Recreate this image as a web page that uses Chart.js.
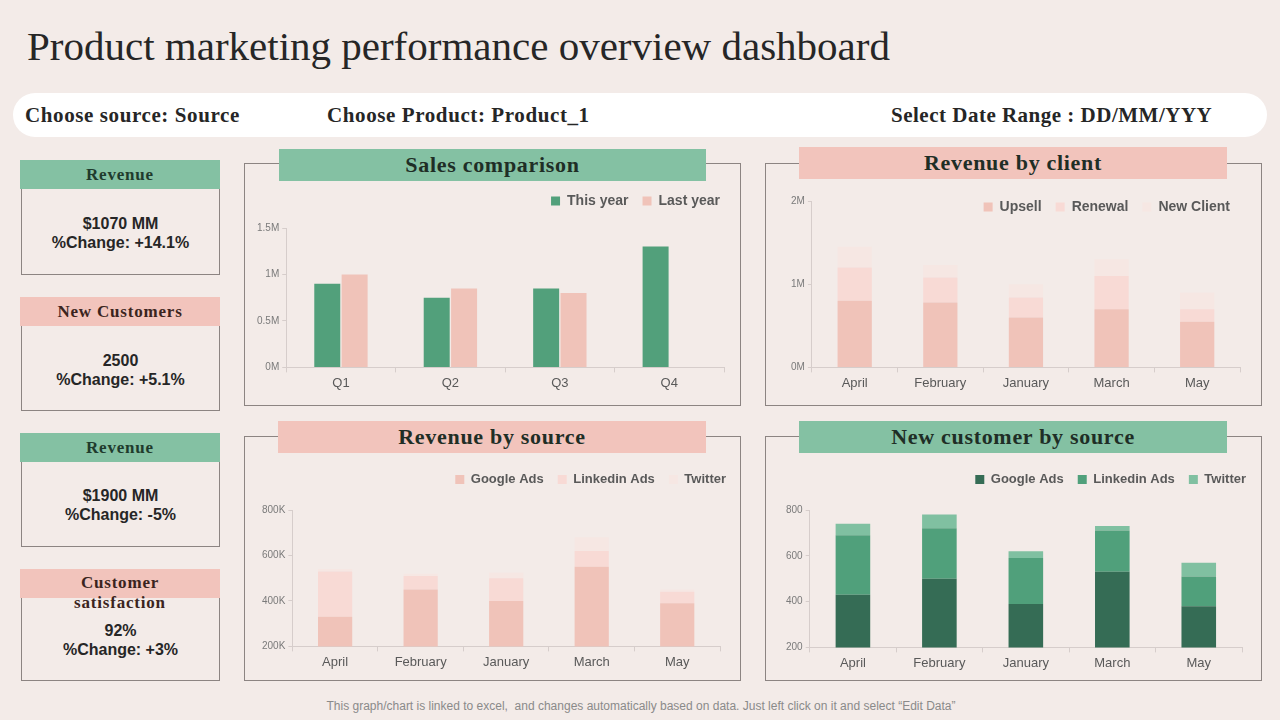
<!DOCTYPE html>
<html>
<head>
<meta charset="utf-8">
<script src="https://cdn.jsdelivr.net/npm/chart.js@4.4.1/dist/chart.umd.min.js"></script>
<style>
  body { margin:0; width:1280px; height:720px; background:#f3ebe8; position:relative; overflow:hidden; font-family:"Liberation Sans", Arial, sans-serif; }
  .abs { position:absolute; }
  .titulo { left:27px; top:22px; font-family:"Liberation Serif", serif; font-size:41px; color:#262626; white-space:nowrap; }
  .filtros { left:13px; top:93px; width:1254px; height:44px; background:#fff; border-radius:22px; }
  .filtro { top:103px; font-family:"Liberation Serif", serif; font-weight:bold; font-size:21px; letter-spacing:0.6px; color:#262626; white-space:nowrap; }
  .tarjeta { left:21px; width:197px; border:1px solid #8c8482; }
  .cabecera { left:20px; width:200px; height:29px; font-family:"Liberation Serif", serif; font-weight:bold; font-size:17px; letter-spacing:0.8px; color:#1f3b2d; text-align:center; line-height:29px; }
  .verde { background:#84c1a3; }
  .rosa { background:#f2c4bc; color:#3b2420; }
  .valor { left:21px; width:199px; text-align:center; font-weight:bold; font-size:16px; line-height:19px; color:#262626; }
  .panel { border:1px solid #8c8482; width:495px; height:241px; }
  .banda { height:32px; width:427px; font-family:"Liberation Serif", serif; font-weight:bold; font-size:22px; letter-spacing:0.7px; text-align:center; line-height:32px; color:#1f2e26; }
  .lienzo { width:484px; }
  .pie { left:0; width:1282px; top:699px; text-align:center; font-size:12px; color:#8a8a8a; }
</style>
</head>
<body>
<div class="abs titulo">Product marketing performance overview dashboard</div>
<div class="abs filtros"></div>
<div class="abs filtro" style="left:25px">Choose source: Source</div>
<div class="abs filtro" style="left:327px">Choose Product: Product_1</div>
<div class="abs filtro" style="left:891px;letter-spacing:0.5px">Select Date Range : DD/MM/YYY</div>

<!-- tarjetas -->
<div class="abs tarjeta" style="top:160px;height:113px"></div>
<div class="abs cabecera verde" style="top:160px">Revenue</div>
<div class="abs valor" style="top:214px">$1070 MM<br>%Change: +14.1%</div>

<div class="abs tarjeta" style="top:297px;height:112px"></div>
<div class="abs cabecera rosa" style="top:297px">New Customers</div>
<div class="abs valor" style="top:351px">2500<br>%Change: +5.1%</div>

<div class="abs tarjeta" style="top:433px;height:112px"></div>
<div class="abs cabecera verde" style="top:433px">Revenue</div>
<div class="abs valor" style="top:486px">$1900 MM<br>%Change: -5%</div>

<div class="abs tarjeta" style="top:569px;height:110px"></div>
<div class="abs cabecera rosa" style="top:569px;line-height:20px;padding-top:4px;height:25px">Customer<br>satisfaction</div>
<div class="abs valor" style="top:621px">92%<br>%Change: +3%</div>

<!-- paneles -->
<div class="abs panel" style="left:244px;top:163px"></div>
<div class="abs banda verde" style="left:279px;top:149px">Sales comparison</div>
<div class="abs lienzo" style="left:250px;top:180px;height:214px"><canvas id="ventas"></canvas></div>

<div class="abs panel" style="left:765px;top:163px"></div>
<div class="abs banda rosa" style="left:799px;top:147px;width:428px">Revenue by client</div>
<div class="abs lienzo" style="left:771px;top:186px;height:208px"><canvas id="clientes"></canvas></div>

<div class="abs panel" style="left:244px;top:436px;height:243px"></div>
<div class="abs banda rosa" style="left:278px;top:421px;width:428px">Revenue by source</div>
<div class="abs lienzo" style="left:250px;top:459px;height:214px"><canvas id="fuentes"></canvas></div>

<div class="abs panel" style="left:765px;top:436px;height:243px"></div>
<div class="abs banda verde" style="left:799px;top:421px;width:428px">New customer by source</div>
<div class="abs lienzo" style="left:771px;top:459px;height:215px"><canvas id="nuevos"></canvas></div>

<div class="abs pie">This graph/chart is linked to excel,&nbsp; and changes automatically based on data. Just left click on it and select “Edit Data”</div>

<script>
// datos
const trimestres = ['Q1', 'Q2', 'Q3', 'Q4'];
const esteAnio = [900000, 750000, 850000, 1300000];
const anioPasado = [1000000, 850000, 800000, null];

const meses = ['April', 'February', 'January', 'March', 'May'];
const upsell = [800000, 780000, 600000, 700000, 550000];
const renewal = [400000, 300000, 240000, 400000, 150000];
const newClient = [250000, 150000, 160000, 200000, 200000];

const googleRev = [330000, 450000, 400000, 550000, 390000];
const linkedinRev = [200000, 60000, 100000, 70000, 50000];
const twitterRev = [10000, 10000, 25000, 60000, 10000];

const googleCli = [430, 500, 390, 530, 380];
const linkedinCli = [260, 220, 200, 180, 130];
const twitterCli = [50, 60, 30, 20, 60];

const ticksVentas = ['0M', '0.5M', '1M', '1.5M'];

// ajusta el alto de la leyenda (el grafico puede meterse debajo de ella)
// y la corre a la derecha dx pixeles
function margenLeyenda(extra, dx) {
    return {
        id: 'margenLeyenda',
        beforeInit(chart) {
            const fitOriginal = chart.legend.fit;
            chart.legend.fit = function fit() {
                fitOriginal.bind(chart.legend)();
                this.height += extra;
            };
        },
        afterLayout(chart) {
            const leyenda = chart.legend;
            // si se achico, devolver el alto para que no recorte el texto
            if (extra < 0) {
                leyenda.height -= extra;
                leyenda.bottom -= extra;
            }
            leyenda.left += dx;
            leyenda.right += dx;
        }
    };
}

// opciones comunes
function opciones(apilado, min, max, paso, etiqueta, izq, der, tamLeyenda) {
    return {
        responsive: true,
        maintainAspectRatio: false,
        animation: false,
        layout: { padding: { left: izq, right: der, top: 0, bottom: 0 } },
        plugins: {
            tooltip: { enabled: false },
            legend: {
                position: 'top',
                align: 'end',
                labels: {
                    boxWidth: 9, boxHeight: 9, padding: 14,
                    color: '#595959',
                    font: { family: 'Liberation Sans', size: tamLeyenda, weight: 'bold' }
                }
            }
        },
        scales: {
            x: {
                stacked: apilado,
                grid: { display: true, drawOnChartArea: false, tickLength: 5, color: '#d6cdcb', offset: true },
                border: { color: '#d6cdcb' },
                ticks: { color: '#595959', font: { family: 'Liberation Sans', size: 13 } }
            },
            y: {
                stacked: apilado,
                min: min, max: max,
                grid: { display: true, drawOnChartArea: false, tickLength: 4, color: '#d6cdcb' },
                border: { color: '#d6cdcb' },
                ticks: { stepSize: paso, color: '#7a7a7a', font: { family: 'Liberation Sans', size: 10 }, callback: etiqueta }
            }
        }
    };
}

new Chart(document.getElementById('ventas'), {
    type: 'bar',
    data: {
        labels: trimestres,
        datasets: [
            { label: 'This year', data: esteAnio, backgroundColor: '#52a07b', categoryPercentage: 0.5, barPercentage: 0.95 },
            { label: 'Last year', data: anioPasado, backgroundColor: '#f0c3b9', categoryPercentage: 0.5, barPercentage: 0.95 }
        ]
    },
    options: opciones(false, 0, 1500000, 500000, v => ticksVentas[Math.round(v / 500000)], 4, 10, 14),
    plugins: [margenLeyenda(10, 10)]
});

new Chart(document.getElementById('clientes'), {
    type: 'bar',
    data: {
        labels: meses,
        datasets: [
            { label: 'Upsell', data: upsell, backgroundColor: '#f0c3b9', barPercentage: 0.4, categoryPercentage: 1 },
            { label: 'Renewal', data: renewal, backgroundColor: '#f8dad5', barPercentage: 0.4, categoryPercentage: 1 },
            { label: 'New Client', data: newClient, backgroundColor: '#f6e7e3', barPercentage: 0.4, categoryPercentage: 1 }
        ]
    },
    options: opciones(true, 0, 2000000, 1000000, v => (v / 1000000) + 'M', 17, 15, 14),
    plugins: [margenLeyenda(-23, 4)]
});

new Chart(document.getElementById('fuentes'), {
    type: 'bar',
    data: {
        labels: meses,
        datasets: [
            { label: 'Google Ads', data: googleRev, backgroundColor: '#f0c3b9', barPercentage: 0.4, categoryPercentage: 1 },
            { label: 'Linkedin Ads', data: linkedinRev, backgroundColor: '#f8dad5', barPercentage: 0.4, categoryPercentage: 1 },
            { label: 'Twitter', data: twitterRev, backgroundColor: '#f6e7e3', barPercentage: 0.4, categoryPercentage: 1 }
        ]
    },
    options: opciones(true, 200000, 800000, 200000, v => (v / 1000) + 'K', 9, 14, 13),
    plugins: [margenLeyenda(14, 20)]
});

new Chart(document.getElementById('nuevos'), {
    type: 'bar',
    data: {
        labels: meses,
        datasets: [
            { label: 'Google Ads', data: googleCli, backgroundColor: '#356c55', barPercentage: 0.4, categoryPercentage: 1 },
            { label: 'Linkedin Ads', data: linkedinCli, backgroundColor: '#50a07b', barPercentage: 0.4, categoryPercentage: 1 },
            { label: 'Twitter', data: twitterCli, backgroundColor: '#80c0a1', barPercentage: 0.4, categoryPercentage: 1 }
        ]
    },
    options: opciones(true, 200, 800, 200, v => v, 12, 13, 13),
    plugins: [margenLeyenda(14, 18)]
});
</script>
</body>
</html>
